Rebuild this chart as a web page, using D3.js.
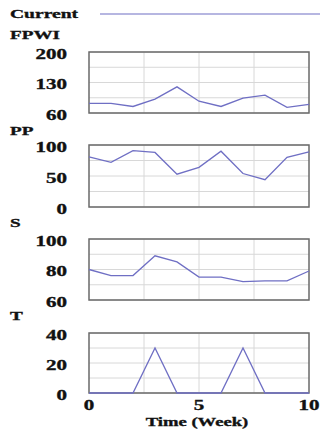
<!DOCTYPE html>
<html><head><meta charset="utf-8">
<script src="https://cdn.jsdelivr.net/npm/d3@7"></script>
<style>body{margin:0;background:#fff}svg{display:block}</style>
</head><body><svg id="c" width="320" height="433"></svg>
<script>
const weeks = [0,1,2,3,4,5,6,7,8,9,10];
const fpwi = [82,82,75,92,120,87,75,94,101,73,80];
const pp   = [81,72,91,88,53,64,90,54,44,80,89];
const sVal = [80,76,76,89,85,75,75,72,72.5,72.5,79];
const tVal = [0,0,0,30,0,0,0,30,0,0,0];
const xTicks = [0,5,10];
const legendLabel = "Current";
const xTitle = "Time (Week)";

const panels = [
  {name:"FPWI", data:fpwi, domain:[60,200], ticks:[60,130,200], top:52, bottom:113, titleY:39},
  {name:"PP",   data:pp,   domain:[0,100],  ticks:[0,50,100],   top:145, bottom:207, titleY:135},
  {name:"S",    data:sVal, domain:[60,100], ticks:[60,80,100],  top:239, bottom:300, titleY:227},
  {name:"T",    data:tVal, domain:[0,40],   ticks:[0,20,40],    top:333, bottom:393, titleY:320}
];

const svg = d3.select("#c");
const lineColor = "#6f6fc4";
const font = "'Liberation Serif','Times New Roman',serif";
const x = d3.scaleLinear().domain([0,10]).range([89,309]);

function txt(str, px, py, anchor, size, sx){
  sx = sx || 1.5;
  const g = svg.append("g").attr("transform",`translate(${px},${py}) scale(${sx},1)`);
  g.append("text").attr("text-anchor",anchor||"start")
    .attr("font-family",font).attr("font-weight","bold").attr("font-size",size||13)
    .attr("fill","#111").attr("stroke","#111").attr("stroke-width",0.35).text(str);
  return g;
}

// legend
txt(legendLabel, 10, 18, "start", 13.5, 1.45);
svg.append("line").attr("x1",100).attr("x2",320).attr("y1",14).attr("y2",14)
  .attr("stroke",lineColor).attr("stroke-width",1.2);

panels.forEach(p=>{
  const y = d3.scaleLinear().domain(p.domain).range([p.bottom,p.top]);
  const g = svg.append("g");
  const yGrid = d3.range(5).map(i=>p.domain[0]+i*(p.domain[1]-p.domain[0])/4);
  const xGrid = [2.5,5,7.5];
  g.selectAll(".hg").data(yGrid).join("line")
    .attr("x1",x(0)).attr("x2",x(10)).attr("y1",d=>y(d)).attr("y2",d=>y(d))
    .attr("stroke","#d8d8d8").attr("stroke-width",1);
  g.selectAll(".vg").data(xGrid).join("line")
    .attr("x1",d=>x(d)).attr("x2",d=>x(d)).attr("y1",p.top).attr("y2",p.bottom)
    .attr("stroke","#d8d8d8").attr("stroke-width",1);
  g.append("rect").attr("x",x(0)).attr("y",p.top).attr("width",x(10)-x(0)).attr("height",p.bottom-p.top)
    .attr("fill","none").attr("stroke","#6a6a6a").attr("stroke-width",1.5);
  g.append("path").datum(p.data)
    .attr("d", d3.line().x((d,i)=>x(weeks[i])).y(d=>y(d)))
    .attr("fill","none").attr("stroke",lineColor).attr("stroke-width",1.3);
  p.ticks.forEach(t=>{
    txt(String(t), 67, y(t)+6.5, "end", 14, 1.5);
  });
  txt(p.name, 10, p.titleY, "start", 13.5, 1.42);
});

xTicks.forEach(t=>{
  txt(String(t), x(t), 410, "middle", 14, 1.5);
});
txt(xTitle, 197, 426, "middle", 13.5, 1.38);
</script></body></html>
